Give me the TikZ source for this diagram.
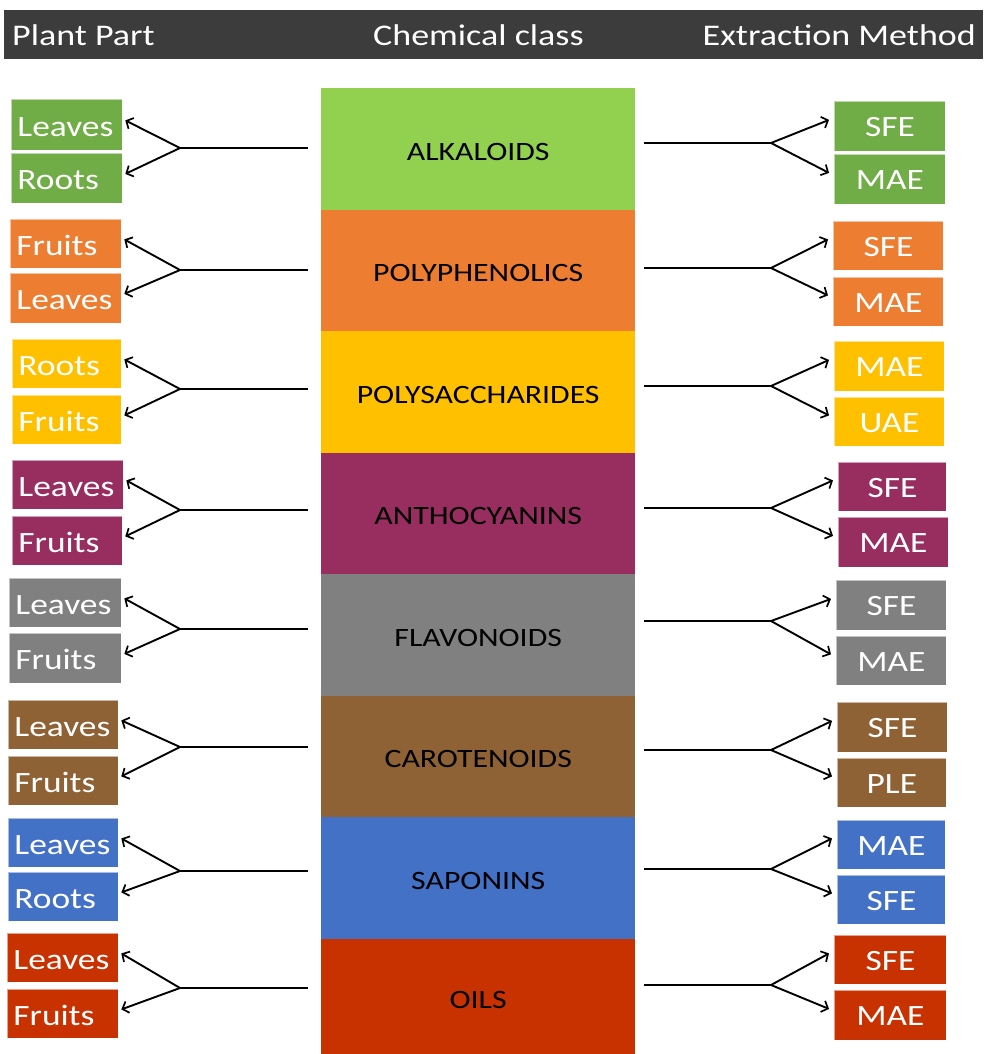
\documentclass[tikz,border=0pt]{standalone}
\usepackage{fontspec}
\setmainfont{Carlito}[FakeStretch=1.2]
\usetikzlibrary{arrows.meta,calc}
\definecolor{hdr}{HTML}{3C3C3C}
\definecolor{grnC}{HTML}{92D050}
\definecolor{grnS}{HTML}{70AD47}
\definecolor{org}{HTML}{ED7D31}
\definecolor{yel}{HTML}{FFC000}
\definecolor{pur}{HTML}{982D60}
\definecolor{gry}{HTML}{808080}
\definecolor{brn}{HTML}{8F6235}
\definecolor{blu}{HTML}{4371C5}
\definecolor{rd}{HTML}{C83200}
\newcommand\lbx[7]{\node[lside=#6, minimum width=\fpeval{#4-#2}pt, minimum height=\fpeval{#5-#3}pt, text width=\fpeval{#4-#2-12}pt] (#1) at (#2,#3) {#7};}
\newcommand\rbx[7]{\node[rside=#6, minimum width=\fpeval{#4-#2}pt, minimum height=\fpeval{#5-#3}pt] (#1) at (#2,#3) {#7};}
\begin{document}
\begin{tikzpicture}[x=1pt,y=-1pt,
  boxbase/.style={anchor=north west, inner ysep=0pt, line width=0.8pt, draw=white, draw opacity=0.55},
  lside/.style={boxbase, fill=#1, text=white, inner xsep=6pt, align=left, text height=23pt, text depth=0pt, font=\fontsize{29.5}{34}\selectfont},
  rside/.style={boxbase, fill=#1, text=white, inner xsep=0pt, align=center, text height=20.5pt, text depth=0pt, font=\fontsize{29.5}{34}\selectfont},
  cls/.style={anchor=north west, fill=#1, inner sep=0pt, minimum width=314pt, minimum height=121.5pt, text=black, text height=23pt, text depth=0pt, font=\fontsize{26.5}{30}\selectfont},
  hdrtext/.style={text=white, inner sep=0pt, font=\fontsize{30}{36}\selectfont},
  conn/.style={line width=1.9pt, black},
  arr/.style={line width=1.9pt, black, -{Straight Barb[length=5.5pt,width=12pt,line width=1.7pt]}}
]
\useasboundingbox (0,0) rectangle (983,1054);
\fill[white] (0,0) rectangle (983,1054);
% header
\fill[hdr] (4,10) rectangle (983,59);
\node[hdrtext, anchor=base west] (h1) at (12,46) {Plant Part};
\node[hdrtext, anchor=base west] (h2) at (373,46) {Chemical class};
\node[hdrtext, anchor=base east] (h3) at (976,46) {Extraction Method};
% central column
\node[cls=grnC] (C1) at (321,88) {ALKALOIDS};
\node[cls=org]  (C2) at (321,209.5) {POLYPHENOLICS};
\node[cls=yel]  (C3) at (321,331) {POLYSACCHARIDES};
\node[cls=pur]  (C4) at (321,452.5) {ANTHOCYANINS};
\node[cls=gry]  (C5) at (321,574) {FLAVONOIDS};
\node[cls=brn]  (C6) at (321,695.5) {CAROTENOIDS};
\node[cls=blu]  (C7) at (321,817) {SAPONINS};
\node[cls=rd, minimum height=116pt] (C8) at (321,938.5) {OILS};
% left boxes
\lbx{La1}{11}{99}{122}{150}{grnS}{Leaves}
\lbx{Lb1}{11}{153}{122}{203}{grnS}{Roots}
\lbx{La2}{10}{219}{121}{268}{org}{Fruits}
\lbx{Lb2}{10}{273}{121}{323}{org}{Leaves}
\lbx{La3}{12}{339}{121}{388}{yel}{Roots}
\lbx{Lb3}{12}{395}{121}{444}{yel}{Fruits}
\lbx{La4}{12}{460}{123}{509}{pur}{Leaves}
\lbx{Lb4}{12}{516}{122}{565}{pur}{Fruits}
\lbx{La5}{9}{578}{121}{627}{gry}{Leaves}
\lbx{Lb5}{9}{633}{121}{683}{gry}{Fruits}
\lbx{La6}{8}{700}{118}{749}{brn}{Leaves}
\lbx{Lb6}{8}{756}{118}{805}{brn}{Fruits}
\lbx{La7}{8}{818}{118}{867}{blu}{Leaves}
\lbx{Lb7}{8}{872}{118}{921}{blu}{Roots}
\lbx{La8}{7}{933}{118}{982}{rd}{Leaves}
\lbx{Lb8}{7}{989}{118}{1038}{rd}{Fruits}
% right boxes
\rbx{Ra1}{834}{101}{945}{151}{grnS}{SFE}
\rbx{Rb1}{834}{154}{945}{204}{grnS}{MAE}
\rbx{Ra2}{833}{221}{943}{270}{org}{SFE}
\rbx{Rb2}{833}{277}{943}{326}{org}{MAE}
\rbx{Ra3}{834}{341}{944}{391}{yel}{MAE}
\rbx{Rb3}{834}{397}{944}{446}{yel}{UAE}
\rbx{Ra4}{838}{462}{946}{511}{pur}{SFE}
\rbx{Rb4}{838}{517}{948}{567}{pur}{MAE}
\rbx{Ra5}{836}{580}{946}{630}{gry}{SFE}
\rbx{Rb5}{836}{636}{946}{685}{gry}{MAE}
\rbx{Ra6}{837}{702}{947}{752}{brn}{SFE}
\rbx{Rb6}{837}{758}{946}{807}{brn}{PLE}
\rbx{Ra7}{837}{820}{945}{869}{blu}{MAE}
\rbx{Rb7}{837}{875}{945}{924}{blu}{SFE}
\rbx{Ra8}{834}{935}{946}{984}{rd}{SFE}
\rbx{Rb8}{834}{990}{946}{1040}{rd}{MAE}
% left connectors
\foreach \i/\y in {1/148,2/270,3/389,4/510,5/629,6/747,7/871,8/988}{
  \coordinate (ls\i) at (308,\y);
  \coordinate (lb\i) at (180,\y);
  \draw[conn] (ls\i) -- (lb\i);
  \draw[arr] (lb\i) -- ($(La\i.east)+(2.5,-4.5)$);
  \draw[arr] (lb\i) -- ($(Lb\i.east)+(2.5,-4.5)$);
}
% right connectors
\foreach \i/\y in {1/143,2/268,3/386,4/508,5/621,6/750,7/869,8/985}{
  \coordinate (rs\i) at (644,\y);
  \coordinate (rb\i) at (771,\y);
  \draw[conn] (rs\i) -- (rb\i);
  \draw[arr] (rb\i) -- ($(Ra\i.west)+(-5,-6.5)$);
  \draw[arr] (rb\i) -- ($(Rb\i.west)+(-5,-6.5)$);
}
\end{tikzpicture}
\end{document}
